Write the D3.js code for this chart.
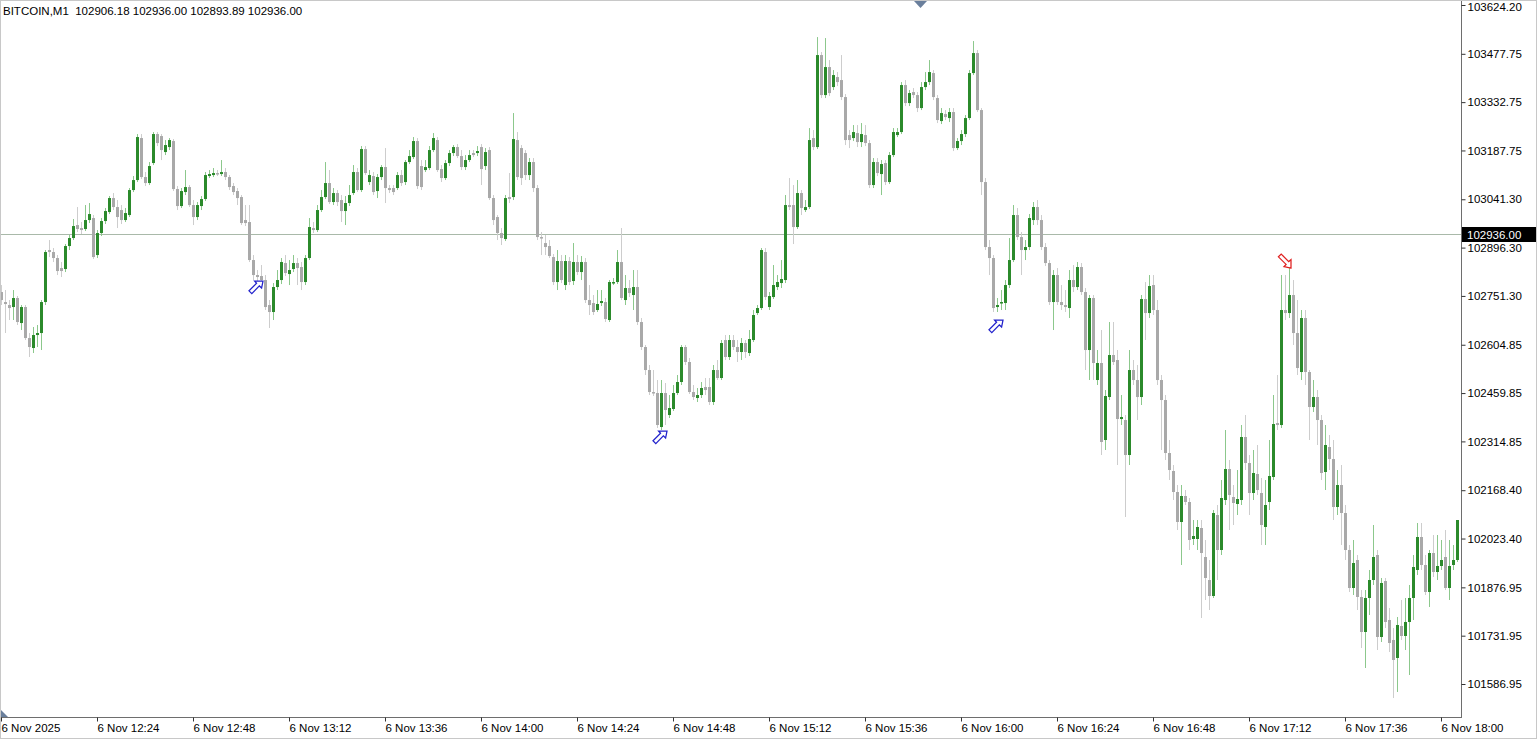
<!DOCTYPE html>
<html><head><meta charset="utf-8">
<script src="https://cdn.jsdelivr.net/npm/d3@7"></script>
<style>
html,body{margin:0;padding:0;background:#fff;overflow:hidden;}
svg{display:block;}
text{font-family:"Liberation Sans",Arial,sans-serif;}
</style></head><body>
<svg id="c" width="1537" height="739"></svg>
<script>
const symbolTitle = "BITCOIN,M1";
const headerValues = ["102906.18","102936.00","102893.89","102936.00"];
const startTime = new Date(2025, 10, 6, 12, 0);
const currentPrice = 102936.00;

const opens = [
102763,102733,102724,102718,102745,102670,102718,102625,102595,102634,
102640,102733,102889,102883,102865,102835,102832,102901,102925,102964,
102955,102952,102979,102985,102874,102940,102976,103003,103045,103018,
103009,102979,102994,103069,103099,103225,103108,103090,103150,103237,
103231,103183,103198,103216,103072,103021,103063,103078,103024,102988,
103021,103042,103111,103114,103120,103117,103123,103108,103081,103066,
103048,102979,102973,102859,102814,102811,102799,102724,102703,102778,
102799,102850,102817,102832,102850,102838,102793,102865,102955,102949,
103009,103048,103090,103033,103060,103039,103006,103030,103060,103123,
103069,103192,103093,103111,103066,103108,103138,103075,103075,103075,
103114,103093,103153,103168,103216,103141,103129,103135,103189,103219,
103132,103105,103150,103180,103198,103171,103138,103159,103180,103180,
103198,103141,103189,103045,102988,102940,102922,103048,103048,103219,
103195,103180,103114,103153,103075,102928,102910,102901,102868,102793,
102856,102784,102856,102796,102853,102823,102853,102739,102730,102709,
102730,102733,102679,102790,102793,102853,102739,102775,102754,102778,
102673,102598,102529,102463,102460,102358,102460,102394,102412,102460,
102493,102598,102553,102463,102445,102454,102478,102478,102433,102529,
102505,102619,102568,102619,102598,102583,102610,102580,102619,102700,
102715,102883,102718,102748,102778,102790,102799,103024,103024,102958,
103060,103009,103018,103225,103198,103474,103354,103438,103378,103408,
103399,103348,103234,103225,103240,103213,103234,103210,103084,103153,
103117,103150,103093,103174,103234,103243,103384,103330,103363,103354,
103315,103378,103393,103420,103345,103276,103297,103285,103303,103195,
103216,103237,103285,103420,103480,103309,103093,102898,102865,102718,
102730,102730,102784,102859,102994,102928,102889,102898,102979,103018,
102979,102898,102850,102733,102814,102733,102724,102715,102799,102778,
102838,102763,102589,102745,102499,102550,102319,102448,102574,102559,
102382,102379,102274,102529,102499,102448,102742,102700,102784,102709,
102499,102439,102280,102226,102163,102073,102151,102133,102022,102022,
102055,101968,101899,101851,102094,101989,102139,102232,102148,102127,
102139,102328,102250,102160,102217,102160,102058,102133,102208,102370,
102364,102709,102700,102754,102640,102523,102685,102523,102418,102448,
102379,102223,102298,102262,102118,102184,102100,101989,101875,101959,
101848,101743,101845,101899,101974,101728,101896,101779,101719,101665,
101761,101731,101773,101845,101929,102028,101944,101863,101980,101923,
101941,101968,101875,101944,101959];

const highs = [
102784,102769,102739,102769,102751,102724,102724,102640,102658,102664,
102739,102889,102919,102895,102874,102853,102907,102934,102982,103018,
102973,103024,103030,102994,102949,102985,103015,103051,103060,103039,
103024,103015,103075,103111,103237,103237,103123,103153,103243,103243,
103237,103219,103225,103222,103081,103075,103129,103084,103039,103033,
103051,103123,103129,103135,103129,103159,103135,103114,103090,103075,
103054,103024,103024,102874,102829,102844,102814,102739,102790,102829,
102865,102874,102859,102874,102865,102853,102874,102985,102973,103024,
103069,103153,103129,103075,103069,103054,103051,103084,103144,103135,
103201,103201,103129,103123,103117,103144,103195,103084,103084,103123,
103129,103159,103189,103228,103225,103159,103159,103201,103240,103228,
103144,103159,103189,103204,103207,103189,103174,103189,103189,103201,
103207,103195,103198,103054,102994,102955,103054,103120,103300,103243,
103204,103189,103165,103165,103084,102943,102934,102919,102877,102889,
102874,102874,102868,102910,102874,102871,102865,102784,102754,102769,
102769,102745,102799,102805,102889,102955,102814,102799,102829,102829,
102685,102604,102544,102529,102499,102499,102490,102454,102484,102514,
102604,102604,102565,102484,102475,102493,102505,102505,102544,102559,
102619,102634,102634,102634,102619,102625,102619,102649,102709,102724,
102895,102895,102763,102844,102814,102859,103054,103105,103084,103099,
103069,103039,103255,103249,103528,103483,103525,103459,103429,103423,
103474,103357,103249,103264,103264,103270,103264,103219,103165,103165,
103159,103159,103183,103255,103255,103393,103399,103369,103375,103363,
103393,103423,103459,103429,103354,103315,103309,103315,103315,103225,
103249,103294,103429,103516,103489,103315,103105,102919,102874,102745,
102769,102799,102925,103024,103015,102943,102919,102997,103033,103039,
102994,102910,102859,102829,102835,102784,102769,102829,102844,102853,
102850,102775,102754,102754,102589,102649,102469,102673,102673,102589,
102454,102394,102589,102559,102544,102754,102793,102814,102814,102739,
102514,102454,102319,102244,102184,102184,102169,102145,102079,102079,
102079,102019,101959,102109,102124,102199,102349,102259,102184,102229,
102364,102394,102274,102289,102304,102205,102199,102319,102454,102514,
102814,102814,102844,102799,102739,102709,102709,102529,102499,102469,
102394,102364,102334,102319,102229,102244,102124,102004,102019,101974,
101869,101869,101929,102064,101989,101905,101905,101815,101755,101788,
101839,101845,101884,101974,102070,102070,101974,101989,102034,102034,
102019,102049,102019,102004,102079];

const lows = [
102724,102640,102679,102679,102664,102649,102619,102568,102580,102598,
102589,102724,102868,102853,102814,102808,102823,102889,102919,102943,
102937,102946,102970,102862,102865,102931,102967,102997,103009,102955,
102967,102973,102988,103063,103093,103102,103081,103084,103144,103201,
103159,103174,103189,103066,103009,103015,103054,103018,102964,102979,
103009,103036,103105,103108,103111,103111,103099,103069,103054,103024,
102964,102961,102853,102799,102793,102784,102709,102655,102679,102769,
102787,102811,102784,102823,102784,102769,102784,102859,102940,102943,
103003,103042,103027,103024,103021,102973,102964,103021,103054,103063,
103063,103114,103084,103054,103045,103099,103030,103060,103054,103069,
103081,103084,103147,103162,103072,103069,103123,103129,103183,103123,
103093,103099,103141,103171,103165,103129,103129,103153,103168,103171,
103084,103129,103039,102964,102919,102904,102916,103030,103039,103099,
103084,103099,103099,103063,102919,102874,102874,102865,102784,102769,
102790,102769,102784,102784,102814,102799,102730,102694,102694,102703,
102721,102673,102673,102784,102787,102739,102724,102748,102709,102664,
102589,102514,102454,102451,102355,102349,102364,102385,102406,102454,
102484,102544,102457,102439,102433,102445,102454,102424,102424,102499,
102499,102559,102559,102589,102553,102559,102565,102571,102613,102694,
102709,102739,102709,102742,102769,102775,102790,103009,102907,102952,
102994,103003,103012,103189,103192,103345,103345,103351,103369,103381,
103339,103204,103195,103216,103198,103198,103201,103075,103075,103111,
103054,103084,103087,103168,103228,103237,103321,103321,103345,103303,
103309,103369,103384,103339,103270,103267,103279,103273,103186,103189,
103204,103228,103279,103414,103303,103054,102889,102814,102703,102703,
102709,102709,102775,102853,102919,102814,102859,102889,102964,102964,
102889,102841,102724,102649,102724,102709,102703,102685,102763,102769,
102754,102529,102499,102499,102484,102274,102289,102439,102544,102244,
102364,102088,102244,102484,102379,102424,102619,102685,102694,102484,
102289,102259,102199,102139,102049,101944,102124,101989,102004,101989,
101785,101839,101809,101845,101899,101974,102124,102049,102064,102094,
102124,102229,102094,102139,102154,102004,102004,102109,102199,102349,
102355,102679,102685,102604,102514,102499,102484,102319,102403,102304,
102199,102169,102229,102079,102094,102004,101959,101863,101854,101809,
101695,101635,101794,101884,101689,101713,101755,101683,101545,101563,
101719,101689,101614,101779,101914,101929,101854,101818,101908,101899,
101929,101869,101839,101929,101953];

const closes = [
102739,102727,102715,102745,102673,102718,102625,102598,102634,102640,
102733,102883,102883,102865,102826,102826,102901,102925,102961,102952,
102949,102979,102997,102868,102940,102976,103006,103045,103018,102988,
102979,103000,103069,103099,103228,103108,103090,103141,103237,103210,
103189,103204,103219,103072,103021,103066,103078,103024,102988,103024,
103042,103114,103117,103120,103117,103123,103108,103078,103063,103045,
102970,102970,102859,102814,102808,102799,102718,102703,102778,102799,
102853,102820,102829,102850,102835,102793,102865,102958,102949,103009,
103048,103090,103033,103060,103033,103006,103030,103054,103123,103069,
103192,103120,103114,103063,103108,103138,103075,103069,103063,103114,
103090,103153,103171,103216,103081,103078,103138,103189,103225,103129,
103105,103150,103180,103198,103171,103138,103159,103174,103174,103186,
103132,103183,103045,102979,102940,102925,103045,103042,103222,103108,
103105,103114,103153,103075,102928,102925,102898,102871,102793,102856,
102799,102856,102793,102853,102823,102853,102739,102724,102703,102727,
102736,102682,102793,102793,102853,102745,102775,102760,102778,102673,
102598,102529,102463,102460,102364,102460,102409,102415,102460,102493,
102598,102553,102463,102448,102454,102475,102469,102433,102529,102505,
102610,102568,102619,102598,102583,102610,102583,102622,102694,102715,
102889,102748,102751,102784,102793,102802,103024,103018,102958,103060,
103015,103018,103219,103198,103474,103354,103438,103360,103414,103393,
103348,103219,103219,103243,103213,103237,103210,103084,103153,103120,
103147,103093,103174,103243,103243,103384,103330,103360,103354,103315,
103378,103393,103423,103348,103279,103300,103288,103303,103195,103216,
103237,103285,103420,103480,103309,103093,102898,102865,102715,102724,
102733,102784,102859,102994,102928,102889,102898,102985,103018,102979,
102898,102850,102733,102814,102733,102724,102718,102799,102778,102838,
102763,102589,102745,102550,102550,102313,102451,102574,102553,102382,
102388,102274,102529,102499,102448,102742,102700,102781,102709,102499,
102439,102280,102229,102163,102073,102151,102133,102019,102031,102058,
101980,101905,101851,102100,101989,102145,102232,102154,102130,102142,
102328,102250,102160,102220,102169,102064,102124,102211,102367,102364,
102709,102700,102754,102640,102535,102685,102523,102418,102448,102379,
102220,102304,102262,102118,102184,102100,101989,101875,101950,101848,
101743,101845,101899,101968,101728,101890,101773,101710,101659,101764,
101731,101773,101845,101938,102028,101944,101863,101980,101923,101941,
101959,101875,101941,101959,102079];

const priceTicks = [103624.20,103477.75,103332.75,103187.75,103041.30,102896.30,102751.30,
  102604.85,102459.85,102314.85,102168.40,102023.40,101876.95,101731.95,101586.95];
const timeTickMinutes = [0,24,48,72,96,120,144,168,192,216,240,264,288,312,336,360];
const buyArrows = [{bar:65, price:102796},{bar:166, price:102346},{bar:250, price:102679}];
const sellArrows = [{bar:322, price:102835}];

const W = 1537, H = 739;
const plotRight = 1461, plotBottom = 717;
const svg = d3.select("#c");
const n = Math.min(opens.length, highs.length, lows.length, closes.length);
const timeOf = i => new Date(startTime.getTime() + i * 60000);
const candles = d3.range(n).map(i => ({t: timeOf(i), o: opens[i], h: highs[i], l: lows[i], c: closes[i]}));

const x = d3.scaleTime().domain([timeOf(0), timeOf(364)]).range([1, 1457]);
const y = d3.scaleLinear().domain([101586.95, 103624.20]).range([684, 5]);

svg.append("defs").append("clipPath").attr("id","plot")
  .append("rect").attr("x",1).attr("y",1).attr("width",plotRight-1).attr("height",plotBottom-1);

const g = svg.append("g").attr("clip-path","url(#plot)");
const green = "#2b8a2b", gray = "#a9a9a9";
const greenWick = "#8cc88c", grayWick = "#cdcdcd";

// current price line
g.append("line").attr("x1",0).attr("x2",plotRight)
  .attr("y1",Math.round(y(currentPrice))+0.5).attr("y2",Math.round(y(currentPrice))+0.5)
  .attr("stroke","#a9b9a9").attr("stroke-width",1);

const cg = g.append("g");
cg.selectAll("line.wick").data(candles).join("line").attr("class","wick")
  .attr("x1", d => Math.round(x(d.t)) + 0.5).attr("x2", d => Math.round(x(d.t)) + 0.5)
  .attr("y1", d => y(d.h)).attr("y2", d => y(d.l))
  .attr("stroke", d => d.c >= d.o ? greenWick : grayWick).attr("stroke-width",1);
cg.selectAll("rect.body").data(candles).join("rect").attr("class","body")
  .attr("x", d => Math.round(x(d.t)) - 1).attr("width", 3)
  .attr("y", d => Math.min(y(d.o), y(d.c)))
  .attr("height", d => Math.max(1.5, Math.abs(y(d.o) - y(d.c))))
  .attr("fill", d => d.c >= d.o ? green : gray);

// arrows: outline arrow, tip at (0,0), body toward upper-left before rotation
const arrowD = "M0,0 L-5,-1 L-3.5,-2.6 L-9,-8 L-7,-10 L-1.6,-4.6 L0,-6 Z";
g.selectAll("path.buy").data(buyArrows).join("path").attr("class","buy")
  .attr("d", arrowD)
  .attr("transform", d => `translate(${x(timeOf(d.bar))+2},${y(d.price)}) rotate(-90) scale(1.4)`)
  .attr("fill","#fff").attr("stroke","#2222cc").attr("stroke-width",0.9);
g.selectAll("path.sell").data(sellArrows).join("path").attr("class","sell")
  .attr("d", arrowD)
  .attr("transform", d => `translate(${x(timeOf(d.bar))+2},${y(d.price)}) scale(1.4)`)
  .attr("fill","#fff").attr("stroke","#e02020").attr("stroke-width",0.9);

// frame
svg.append("rect").attr("x",0.5).attr("y",0.5).attr("width",plotRight).attr("height",plotBottom)
  .attr("fill","none").attr("stroke","#6e6e6e");
svg.append("rect").attr("x",0.5).attr("y",0.5).attr("width",W-1).attr("height",H-1)
  .attr("fill","none").attr("stroke","#c8c8c8");

// price axis
const ya = svg.append("g").attr("transform",`translate(${plotRight+0.5},0)`)
  .call(d3.axisRight(y).tickValues(priceTicks).tickFormat(d3.format(".2f")).tickSizeInner(4).tickSizeOuter(0).tickPadding(2));
ya.select(".domain").remove();
ya.selectAll("text").attr("font-family","DejaVu Sans").attr("font-size",11.5).attr("fill","#000");
ya.selectAll(".tick").filter((d,i) => i === 0).select("text").attr("dy","0.45em");
ya.selectAll("line").attr("stroke","#333");

// current price label
const cy = Math.round(y(currentPrice));
svg.append("rect").attr("x",plotRight+1).attr("y",cy-7).attr("width",W-plotRight-2).attr("height",15).attr("fill","#000");
svg.append("text").attr("x",plotRight+6).attr("y",cy+4.5).attr("fill","#fff").attr("font-size",11.5)
  .attr("font-family","DejaVu Sans").text(d3.format(".2f")(currentPrice));

// time axis
const fmtDate = d3.timeFormat("%-d %b %Y"), fmtTime = d3.timeFormat("%-d %b %H:%M");
const xa = svg.append("g").attr("transform",`translate(0,${plotBottom+0.5})`)
  .call(d3.axisBottom(x).tickValues(timeTickMinutes.map(timeOf))
    .tickFormat((d,i) => i === 0 ? fmtDate(d) : fmtTime(d)).tickSizeInner(4).tickSizeOuter(0).tickPadding(2));
xa.select(".domain").remove();
xa.selectAll("text").attr("text-anchor","start").attr("dx","0").attr("font-family","Liberation Sans").attr("font-size",11.5).attr("fill","#000");
xa.selectAll("line").attr("stroke","#333");

// header
svg.append("text").attr("x",3).attr("y",15).attr("font-size",11.5).attr("fill","#000")
  .attr("xml:space","preserve").text(symbolTitle + "  " + headerValues.join(" "));

// markers
svg.append("path").attr("d","M914,1 L927,1 L920.5,8 Z").attr("fill","#6a7f9c");
svg.append("path").attr("d","M1,710 L1,717 L8,717 Z").attr("fill","#6a7f9c");
</script></body></html>
